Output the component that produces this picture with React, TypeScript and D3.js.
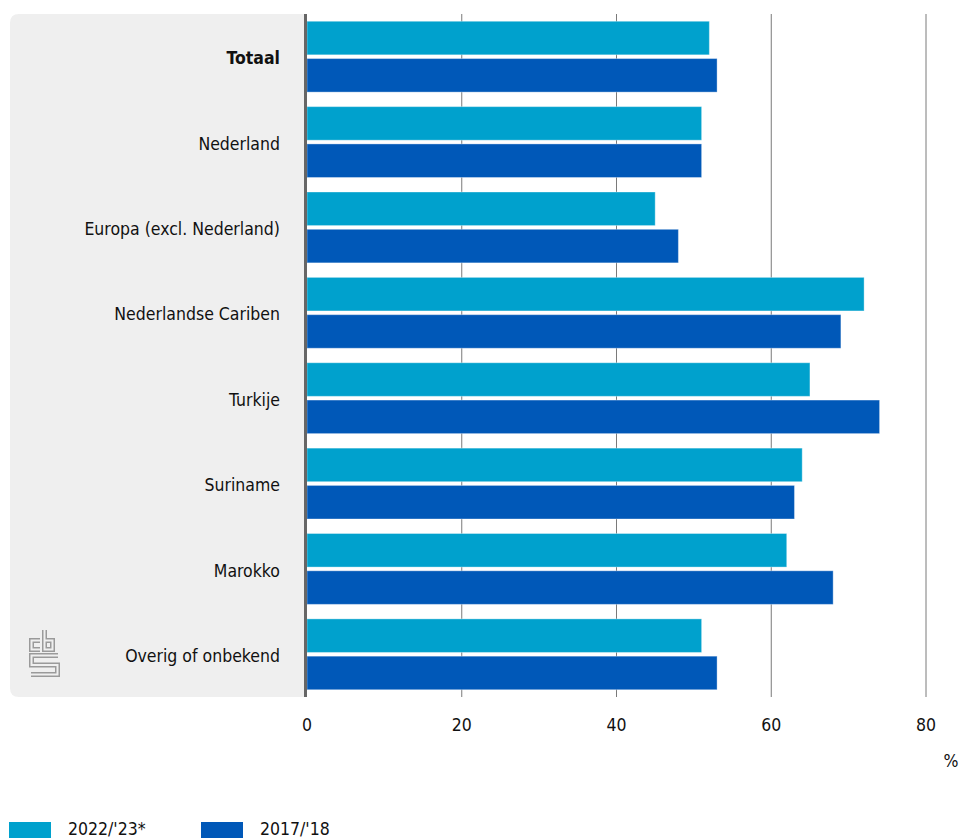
import React from "react";
import * as d3 from "d3";

const categories = [
  "Totaal",
  "Nederland",
  "Europa (excl. Nederland)",
  "Nederlandse Cariben",
  "Turkije",
  "Suriname",
  "Marokko",
  "Overig of onbekend",
];
const series2022 = [52, 51, 45, 72, 65, 64, 62, 51];
const series2017 = [53, 51, 48, 69, 74, 63, 68, 53];
const seriesNames = ["2022/'23*", "2017/'18"];
const seriesColors = ["#00a1cd", "#0058b8"];
const xTicks = [0, 20, 40, 60, 80];

const W = 959;
const H = 838;
const FONT = "'DejaVu Sans Condensed', 'Liberation Sans Narrow', 'Noto Sans', sans-serif";

export default function App() {
  const top = 14;
  const bottom = 697;
  const x = d3.scaleLinear().domain([0, 80]).range([307, 926]);
  const y = d3
    .scaleBand<string>()
    .domain(categories)
    .range([top, bottom])
    .paddingInner(0.17)
    .paddingOuter(0.085);
  const inner = d3
    .scaleBand<number>()
    .domain([0, 1])
    .range([0, y.bandwidth()])
    .paddingInner(0.1);
  const seriesData = [series2022, series2017];
  const r = 9;
  const panel = `M306,${top} H${10 + r} Q10,${top} 10,${top + r} V${bottom - r} Q10,${bottom} ${10 + r},${bottom} H306 Z`;
  const logoPaths = [
    "M40,640.5 H31.5 V649.5 H40",
    "M44.5,630 V649.5 H52.5 V640.5 H44.5",
    "M58,655.5 H31.5 V665 H57.5 V674.5 H31",
  ];

  return (
    <svg
      width={W}
      height={H}
      style={{ position: "absolute", left: 0, top: 0, fontFamily: FONT }}
    >
      <path d={panel} fill="#efefef" />
      {xTicks.slice(1).map((t) => (
        <line
          key={t}
          x1={x(t)}
          x2={x(t)}
          y1={top}
          y2={bottom}
          stroke="#7a7a7a"
          strokeWidth={1}
        />
      ))}
      {categories.map((c, i) => (
        <g key={c} transform={`translate(0,${y(c)})`}>
          {seriesData.map((s, k) => (
            <rect
              key={k}
              x={x(0)}
              y={inner(k)}
              width={x(s[i]) - x(0)}
              height={inner.bandwidth()}
              fill={seriesColors[k]}
              stroke="#ffffff"
              strokeOpacity={0.35}
              strokeWidth={1}
            />
          ))}
          <text
            x={280}
            y={y.bandwidth() / 2 + 1.5}
            dy="0.35em"
            textAnchor="end"
            fontSize={17.5}
            fontWeight={i === 0 ? "bold" : "normal"}
            fill="#111"
          >
            {c}
          </text>
        </g>
      ))}
      <line x1={305.5} x2={305.5} y1={top} y2={bottom} stroke="#666" strokeWidth={3} />
      {xTicks.map((t) => (
        <text
          key={t}
          x={x(t)}
          y={725}
          dy="0.35em"
          textAnchor="middle"
          fontSize={17.5}
          fill="#111"
        >
          {t}
        </text>
      ))}
      <text x={951} y={761} dy="0.35em" textAnchor="middle" fontSize={17.5} fill="#111">
        %
      </text>
      {/* cbs logo */}
      <g fill="none" strokeLinejoin="miter" strokeLinecap="butt">
        {logoPaths.map((d, i) => (
          <path key={"o" + i} d={d} stroke="#9a9a9a" strokeWidth={5} />
        ))}
        {logoPaths.map((d, i) => (
          <path key={"i" + i} d={d} stroke="#efefef" strokeWidth={2} />
        ))}
      </g>
      {seriesNames.map((n, k) => {
        const lx = k === 0 ? 9 : 201;
        return (
          <g key={n}>
            <rect x={lx} y={822} width={42} height={20} fill={seriesColors[k]} />
            <text x={lx + 59} y={835} fontSize={17.5} fill="#111">
              {n}
            </text>
          </g>
        );
      })}
    </svg>
  );
}
